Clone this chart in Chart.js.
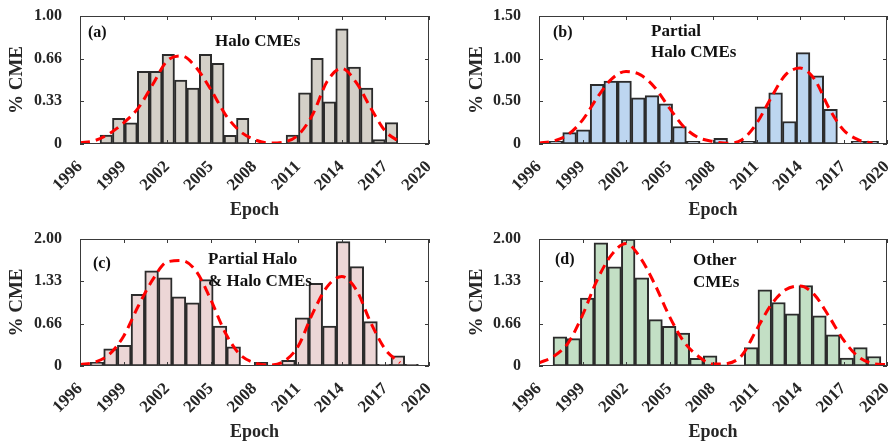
<!DOCTYPE html>
<html>
<head>
<meta charset="utf-8">
<script src="https://cdn.jsdelivr.net/npm/chart.js@4.4.1/dist/chart.umd.min.js"></script>
<style>
  html, body { margin: 0; padding: 0; background: #fff; }
  #wrap { position: relative; width: 890px; height: 443px; }
  canvas { position: absolute; }
</style>
</head>
<body>
<div id="wrap">
  <canvas id="chartA" width="445" height="221" style="left:0;top:0"></canvas>
  <canvas id="chartB" width="445" height="221" style="left:445px;top:0"></canvas>
  <canvas id="chartC" width="445" height="221" style="left:0;top:222px"></canvas>
  <canvas id="chartD" width="445" height="221" style="left:445px;top:222px"></canvas>
</div>
<script>
// epoch ticks and the years the fitted curves are read at
const xTicks = [1996, 1999, 2002, 2005, 2008, 2011, 2014, 2017, 2020];
const fitYears = [1996, 1997, 1998, 1999, 2000, 2001, 2002, 2003, 2004, 2005, 2006, 2007, 2008,
  2009, 2010, 2011, 2012, 2013, 2014, 2015, 2016, 2017, 2018, 2019, 2020];

// (a) Halo CMEs: 24 bins between first and last edge
const binsA = [1997.38, 2017.85];
const valuesA = [0.07, 0.20, 0.165, 0.567, 0.567, 0.70, 0.50, 0.436, 0.70, 0.63, 0.068, 0.20,
  0.005, 0.005, 0.005, 0.07, 0.40, 0.67, 0.33, 0.90, 0.60, 0.436, 0.035, 0.167];
const fitA = [0.01, 0.026, 0.08, 0.165, 0.28, 0.465, 0.65, 0.687, 0.595, 0.425, 0.23, 0.10, 0.034,
  0.008, 0.015, 0.07, 0.23, 0.49, 0.59, 0.48, 0.28, 0.10, 0.015];
const yTicksA = [0, 1 / 3, 2 / 3, 1];
const yLabelsA = ['0', '0.33', '0.66', '1.00'];

// (b) Partial Halo CMEs
const binsB = [1996.69, 2019.42];
const valuesB = [0.03, 0.134, 0.165, 0.70, 0.736, 0.736, 0.54, 0.567, 0.47, 0.205, 0.03, 0.01,
  0.067, 0.01, 0.03, 0.437, 0.60, 0.264, 1.07, 0.80, 0.405, 0.005, 0.03, 0.03];
const fitB = [0.01, 0.035, 0.11, 0.28, 0.54, 0.76, 0.85, 0.81, 0.66, 0.42, 0.20, 0.075, 0.03,
  0.01, 0.05, 0.24, 0.54, 0.81, 0.89, 0.76, 0.42, 0.165, 0.05, 0.01];
const yTicksB = [0, 0.5, 1, 1.5];
const yLabelsB = ['0', '0.50', '1.00', '1.50'];

// (c) Partial Halo & Halo CMEs
const binsC = [1996.69, 2019.27];
const valuesC = [0.058, 0.27, 0.325, 1.13, 1.50, 1.39, 1.09, 0.995, 1.36, 0.63, 0.30, 0,
  0.058, 0.015, 0.09, 0.76, 1.30, 0.63, 1.96, 1.565, 0.70, 0.026, 0.16, 0.026];
const fitC = [0.02, 0.06, 0.18, 0.47, 0.94, 1.36, 1.64, 1.66, 1.49, 1.04, 0.52, 0.18, 0.05,
  0.015, 0.07, 0.31, 0.83, 1.25, 1.41, 1.20, 0.68, 0.26, 0.05];
const yTicksC = [0, 2 / 3, 4 / 3, 2];
const yLabelsC = ['0', '0.66', '1.33', '2.00'];

// (d) Other CMEs
const binsD = [1996.97, 2019.58];
const valuesD = [0.46, 0.43, 1.07, 1.94, 1.56, 2.00, 1.39, 0.73, 0.625, 0.52, 0.12, 0.16,
  0.02, 0.02, 0.29, 1.20, 1.00, 0.82, 1.265, 0.79, 0.49, 0.126, 0.29, 0.15];
const fitD = [0.05, 0.15, 0.36, 0.80, 1.35, 1.75, 1.93, 1.70, 1.28, 0.78, 0.38, 0.15, 0.03,
  0.04, 0.17, 0.57, 0.96, 1.20, 1.26, 1.12, 0.78, 0.41, 0.15, 0.04, 0.02];
const yTicksD = [0, 2 / 3, 4 / 3, 2];
const yLabelsD = ['0', '0.66', '1.33', '2.00'];

const ink = '#262626';
const serif = '"Liberation Serif", "Times New Roman", serif';

// box with inward ticks, plus the panel notes
const framePlugin = {
  id: 'frame',
  afterDraw(chart, args, opts) {
    const { ctx, chartArea: a, scales: { x, y } } = chart;
    ctx.save();
    ctx.strokeStyle = '#3a3a3a';
    ctx.lineWidth = 1;
    ctx.strokeRect(a.left + 0.5, a.top + 0.5, a.right - a.left - 1, a.bottom - a.top - 1);
    ctx.beginPath();
    x.ticks.forEach(t => {
      const px = Math.round(x.getPixelForValue(t.value)) + 0.5;
      ctx.moveTo(px, a.top); ctx.lineTo(px, a.top + 4);
      ctx.moveTo(px, a.bottom); ctx.lineTo(px, a.bottom - 4);
    });
    y.ticks.forEach(t => {
      const py = Math.round(y.getPixelForValue(t.value)) + 0.5;
      ctx.moveTo(a.left, py); ctx.lineTo(a.left + 4, py);
      ctx.moveTo(a.right, py); ctx.lineTo(a.right - 4, py);
    });
    ctx.stroke();

    ctx.fillStyle = '#111';
    ctx.textBaseline = 'middle';
    ctx.textAlign = 'left';
    ctx.font = 'bold 16px ' + serif;
    ctx.fillText(opts.tag, a.left + opts.tagX, a.top + opts.tagY);
    ctx.font = 'bold 17px ' + serif;
    opts.lines.forEach((s, i) => {
      ctx.fillText(s, a.left + opts.textX, a.top + opts.textY + i * 21.5);
    });
    ctx.restore();
  }
};

function makeChart(id, bins, values, fit, yTicks, yLabels, color, look) {
  const n = values.length;
  const w = (bins[1] - bins[0]) / n;
  const barData = values.map((v, i) => ({ x: bins[0] + (i + 0.5) * w, y: v }));
  const fitData = fit.map((v, i) => ({ x: fitYears[i], y: v }));

  return new Chart(document.getElementById(id), {
    type: 'bar',
    data: {
      datasets: [{
        type: 'line',
        data: fitData,
        borderColor: '#ff0000',
        borderWidth: 3,
        borderDash: [10, 6],
        pointRadius: 0,
        fill: false,
        cubicInterpolationMode: 'monotone',
        order: 0
      }, {
        data: barData,
        backgroundColor: color,
        borderColor: '#2b2b2b',
        borderWidth: 2,
        borderSkipped: false,
        barPercentage: 1,
        categoryPercentage: 1,
        order: 1
      }]
    },
    options: {
      responsive: false,
      animation: false,
      layout: { padding: { left: 0, right: look.padRight, top: look.padTop, bottom: 0 } },
      plugins: {
        legend: { display: false },
        tooltip: { enabled: false },
        frame: look.notes
      },
      scales: {
        x: {
          type: 'linear',
          min: 1996,
          max: 2020,
          offset: false,
          grid: { display: false, drawTicks: false },
          border: { display: false },
          afterBuildTicks: s => { s.ticks = xTicks.map(v => ({ value: v })); },
          afterFit: s => { s.height = 77; s.paddingLeft = 0; s.paddingRight = 0; },
          ticks: {
            autoSkip: false,
            maxRotation: 45,
            minRotation: 45,
            padding: 13,
            color: ink,
            font: { family: serif, size: 17, weight: 'bold' },
            callback: v => String(v)
          },
          title: {
            display: true,
            text: 'Epoch',
            color: ink,
            padding: { top: 0, bottom: 0 },
            font: { family: serif, size: 18, weight: 'bold' }
          }
        },
        y: {
          min: 0,
          max: yTicks[yTicks.length - 1],
          grid: { display: false, drawTicks: false },
          border: { display: false },
          afterBuildTicks: s => { s.ticks = yTicks.map(v => ({ value: v })); },
          afterFit: s => { s.width = look.yWidth; s.paddingTop = 0; s.paddingBottom = 0; },
          ticks: {
            padding: 18,
            color: ink,
            font: { family: serif, size: 16, weight: 'bold' },
            callback: (v, i) => yLabels[i]
          },
          title: {
            display: true,
            text: '% CME',
            color: ink,
            padding: { top: look.titlePad, bottom: 0 },
            font: { family: serif, size: 19, weight: 'bold' }
          }
        }
      }
    },
    plugins: [framePlugin]
  });
}

makeChart('chartA', binsA, valuesA, fitA, yTicksA, yLabelsA, '#d4d0c8', {
  padRight: 16, padTop: 16, yWidth: 80, titlePad: 6,
  notes: { tag: '(a)', tagX: 8, tagY: 17, lines: ['Halo CMEs'], textX: 135, textY: 25.5 }
});
makeChart('chartB', binsB, valuesB, fitB, yTicksB, yLabelsB, '#bdd6f0', {
  padRight: 3, padTop: 16, yWidth: 94, titlePad: 21,
  notes: { tag: '(b)', tagX: 14, tagY: 17, lines: ['Partial', 'Halo CMEs'], textX: 112, textY: 15.5 }
});
makeChart('chartC', binsC, valuesC, fitC, yTicksC, yLabelsC, '#ecd6d6', {
  padRight: 16, padTop: 17, yWidth: 80, titlePad: 6,
  notes: { tag: '(c)', tagX: 13, tagY: 25, lines: ['Partial Halo', '& Halo CMEs'], textX: 128, textY: 21 }
});
makeChart('chartD', binsD, valuesD, fitD, yTicksD, yLabelsD, '#c3dfc5', {
  padRight: 3, padTop: 17, yWidth: 94, titlePad: 21,
  notes: { tag: '(d)', tagX: 16, tagY: 21, lines: ['Other', 'CMEs'], textX: 154, textY: 22 }
});
</script>
</body>
</html>
